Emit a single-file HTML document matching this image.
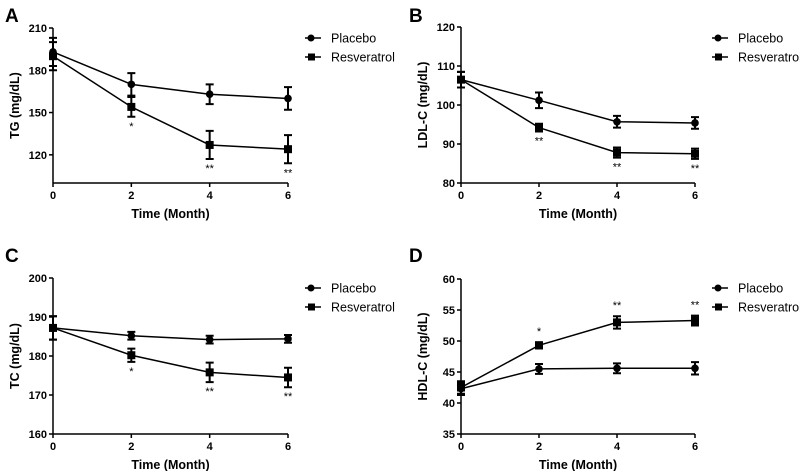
<!DOCTYPE html>
<html><head><meta charset="utf-8"><style>
html,body{margin:0;padding:0;background:#fff;}
svg{display:block;font-family:"Liberation Sans",Arial,sans-serif;}
</style></head><body>
<svg id="chart" width="800" height="471" viewBox="0 0 800 471"></svg>
<script>
const months=[0,2,4,6];
const xTicks=[0,2,4,6];
const panelLabels=['A','B','C','D'];
const yTitles=['TG (mg/dL)','LDL-C (mg/dL)','TC (mg/dL)','HDL-C (mg/dL)'];
const yTicksA=[120,150,180,210];
const yTicksB=[80,90,100,110,120];
const yTicksC=[160,170,180,190,200];
const yTicksD=[35,40,45,50,55,60];
const placeboA=[193,170,163,160], placeboErrA=[10,8,7,8];
const resvA=[190,154,127,124], resvErrA=[10,7,10,10];
const placeboB=[106.5,101.2,95.7,95.4], placeboErrB=[2,2,1.5,1.5];
const resvB=[106.5,94.2,87.8,87.5], resvErrB=[2,1,1.3,1.3];
const placeboC=[187.2,185.2,184.2,184.4], placeboErrC=[3,1,1,1];
const resvC=[187.2,180.2,175.8,174.5], resvErrC=[3,1.7,2.5,2.5];
const placeboD=[42.3,45.5,45.6,45.6], placeboErrD=[1,0.8,0.8,1];
const resvD=[42.5,49.3,53,53.3], resvErrD=[1,0.5,1,0.8];
const starsA=['','*','**','**'], starsB=['','**','**','**'], starsC=['','*','**','**'], starsD=['','*','**','**'];

const svg=document.getElementById('chart');
const NS='http://www.w3.org/2000/svg';
function el(tag,attrs,parent){const e=document.createElementNS(NS,tag);for(const k in attrs)e.setAttribute(k,attrs[k]);(parent||svg).appendChild(e);return e;}

const panels=[
 {x0:53,x1:288,yTop:28,yBot:183,vMin:100,vMax:210,lx:305,ly:38,ticks:yTicksA,p:placeboA,pe:placeboErrA,r:resvA,re:resvErrA,st:starsA,below:true,lab:[5,22]},
 {x0:461,x1:695,yTop:27,yBot:183,vMin:80,vMax:120,lx:712,ly:38,ticks:yTicksB,p:placeboB,pe:placeboErrB,r:resvB,re:resvErrB,st:starsB,below:true,lab:[409,22]},
 {x0:53,x1:288,yTop:278,yBot:434,vMin:160,vMax:200,lx:305,ly:288,ticks:yTicksC,p:placeboC,pe:placeboErrC,r:resvC,re:resvErrC,st:starsC,below:true,lab:[5,262]},
 {x0:461,x1:695,yTop:279,yBot:434,vMin:35,vMax:60,lx:712,ly:288,ticks:yTicksD,p:placeboD,pe:placeboErrD,r:resvD,re:resvErrD,st:starsD,below:false,lab:[409,262]}
];

panels.forEach((P,i)=>{
 const g=el('g',{});
 
 
 const xs=v=>P.x0+(v-0)/6*(P.x1-P.x0);
 const ys=v=>P.yBot-(v-P.vMin)/(P.vMax-P.vMin)*(P.yBot-P.yTop);
 const t=el('text',{x:P.lab[0],y:P.lab[1],'font-size':19,'font-weight':'bold'},g);t.textContent=panelLabels[i];
 
 const yTopAxis=ys(P.ticks[P.ticks.length-1]);
 const ya=el('line',{x1:P.x0,x2:P.x0,y1:yTopAxis,y2:P.yBot,stroke:'#000','stroke-width':1.5},g);
 
 const xa=el('line',{x1:P.x0,x2:P.x1,y1:P.yBot,y2:P.yBot,stroke:'#000','stroke-width':1.5},g);
 
 P.ticks.forEach(v=>{
  el('line',{x1:P.x0-4,x2:P.x0,y1:ys(v),y2:ys(v),stroke:'#000','stroke-width':1.5},g);
  const tl=el('text',{x:P.x0-6,y:ys(v)+4,'font-size':11,'font-weight':'bold','text-anchor':'end'},g);tl.textContent=v;
  
 });
 xTicks.forEach(v=>{
  el('line',{x1:xs(v),x2:xs(v),y1:P.yBot,y2:P.yBot+4,stroke:'#000','stroke-width':1.5},g);
  const tl=el('text',{x:xs(v),y:P.yBot+16,'font-size':11,'font-weight':'bold','text-anchor':'middle'},g);tl.textContent=v;
  
 });
 const xt=el('text',{x:(P.x0+P.x1)/2,y:P.yBot+35,'font-size':12.5,'font-weight':'bold','text-anchor':'middle'},g);xt.textContent='Time (Month)';
 
 const cy=(P.yTop+P.yBot)/2;
 const yt=el('text',{x:P.x0-34,y:cy,'font-size':12.5,'font-weight':'bold','text-anchor':'middle',transform:`rotate(-90 ${P.x0-34} ${cy})`},g);yt.textContent=yTitles[i];
 
 [[P.p,P.pe,'circle','placebo'],[P.r,P.re,'square','resveratrol']].forEach(([vals,errs,shape,nm])=>{
  const sg=el('g',{},g);
  
  el('polyline',{points:vals.map((v,k)=>xs(months[k])+','+ys(v)).join(' '),fill:'none',stroke:'#000','stroke-width':1.5},sg);
  vals.forEach((v,k)=>{
   const x=xs(months[k]),hi=ys(v+errs[k]),lo=ys(v-errs[k]);
   el('path',{d:`M${x},${hi}V${lo}M${x-4},${hi}H${x+4}M${x-4},${lo}H${x+4}`,stroke:'#000','stroke-width':2,fill:'none'},sg);
   const m=shape==='circle'?el('circle',{cx:x,cy:ys(v),r:3.8,fill:'#000'},sg):el('rect',{x:x-4,y:ys(v)-4,width:8,height:8,fill:'#000'},sg);
   
  });
 });
 P.st.forEach((s,k)=>{
  if(!s)return;
  const x=xs(months[k]);
  const y=P.below?ys(P.r[k]-P.re[k])+13:ys(P.r[k]+P.re[k])-7;
  const st=el('text',{x:x,y:y,'font-size':11,'text-anchor':'middle'},g);st.textContent=s;
  
 });
 [['Placebo','circle'],['Resveratrol','square']].forEach(([name,shape],k)=>{
  const lg=el('g',{},g);
  
  const y=P.ly+k*19;
  el('line',{x1:P.lx,x2:P.lx+16,y1:y,y2:y,stroke:'#000','stroke-width':1.5},lg);
  if(shape==='circle')el('circle',{cx:P.lx+6,cy:y,r:3.5,fill:'#000'},lg);else el('rect',{x:P.lx+3,y:y-3.5,width:7,height:7,fill:'#000'},lg);
  const tx=el('text',{x:P.lx+26,y:y+4.5,'font-size':12.5},lg);tx.textContent=name;
 });
});
</script>
</body></html>
